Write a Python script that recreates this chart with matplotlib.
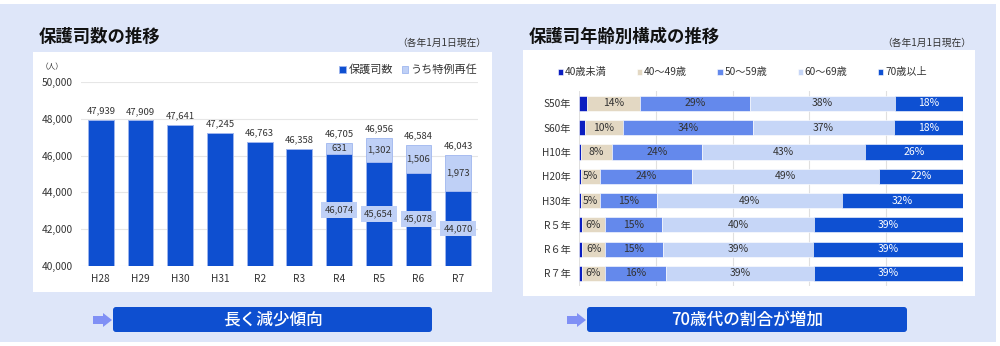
import matplotlib
matplotlib.use('Agg')
import matplotlib.pyplot as plt
import matplotlib.patches as mpatches
import numpy as np

plt.rcParams['font.family'] = ['Noto Sans CJK JP', 'DejaVu Sans']

# 保護司数の推移
years = ['H28', 'H29', 'H30', 'H31', 'R2', 'R3', 'R4', 'R5', 'R6', 'R7']
totals = [47939, 47909, 47641, 47245, 46763, 46358, 46705, 46956, 46584, 46043]
special = [0, 0, 0, 0, 0, 0, 631, 1302, 1506, 1973]   # うち特例再任

# 保護司年齢別構成の推移 (%)
rows = ['S50年', 'S60年', 'H10年', 'H20年', 'H30年', 'R５年', 'R６年', 'R７年']
age_labels = ['40歳未満', '40～49歳', '50～59歳', '60～69歳', '70歳以上']
u40 = [2, 1.5, 0.6, 0.5, 0.5, 0.8, 0.8, 0.8]
a40 = [14, 10, 8, 5, 5, 6, 6, 6]
a50 = [29, 34, 24, 24, 15, 15, 15, 16]
a60 = [38, 37, 43, 49, 49, 40, 39, 39]
a70 = [18, 18, 26, 22, 32, 39, 39, 39]

BG = '#dee6f9'
DARK = '#0e4fd0'
LIGHT = '#bfd0f6'
age_colors = ['#0b1ec0', '#e3d8c3', '#6489ec', '#c6d6f7', '#0e50d2']
TXT = '#333333'

W, H = 1000, 346
fig = plt.figure(figsize=(W / 100, H / 100), dpi=100)


def box(x0, y0, x1, y1):
    # pixel box (top-left origin) -> figure fraction rect
    return [x0 / W, 1 - y1 / H, (x1 - x0) / W, (y1 - y0) / H]


# background layer in pixel coordinates
bg = fig.add_axes([0, 0, 1, 1], zorder=0)
bg.set_xlim(0, W)
bg.set_ylim(H, 0)
bg.axis('off')
bg.add_patch(mpatches.Rectangle((0, 4), 996, 338, color=BG, lw=0))
bg.add_patch(mpatches.Rectangle((33, 52), 459, 240, color='white', lw=0))
bg.add_patch(mpatches.Rectangle((523, 50), 452, 246, color='white', lw=0))

bg.text(39, 37, '保護司数の推移', fontsize=12.5, fontweight='bold', va='center', color='#111')
bg.text(486, 43, '（各年1月1日現在）', fontsize=7, ha='right', va='center', color=TXT)
bg.text(529, 37, '保護司年齢別構成の推移', fontsize=12.5, fontweight='bold', va='center', color='#111')
bg.text(971, 43, '（各年1月1日現在）', fontsize=7, ha='right', va='center', color=TXT)
bg.text(52, 67, '（人）', fontsize=5.5, ha='center', va='center', color=TXT)

# buttons with arrows
for x0, x1, label in [(113, 432, '長く減少傾向'), (587, 907, '70歳代の割合が増加')]:
    bg.add_patch(mpatches.FancyBboxPatch((x0, 307), x1 - x0, 25,
                                         boxstyle='round,pad=0,rounding_size=3',
                                         color=DARK, lw=0))
    bg.text((x0 + x1) / 2, 320, label, fontsize=12, fontweight='medium',
            color='white', ha='center', va='center')
    ax0 = x0 - 20
    arrow = [(ax0, 316), (ax0 + 10, 316), (ax0 + 10, 313), (ax0 + 19, 320),
             (ax0 + 10, 327), (ax0 + 10, 324), (ax0, 324)]
    bg.add_patch(mpatches.Polygon(arrow, closed=True, color='#8090f5', lw=0))

# ---- left: bar chart ----
ax = fig.add_axes(box(81, 82, 478, 266), zorder=1)
ax.set_facecolor('none')
x = np.arange(len(years))
regular = np.array(totals) - np.array(special)
ax.bar(x, regular, width=0.65, color=DARK, edgecolor='#9fb6ef', lw=0.6,
       label='保護司数', zorder=2)
ax.bar(x, special, bottom=regular, width=0.65, color=LIGHT, edgecolor='#9fb6ef',
       lw=0.6, label='うち特例再任', zorder=2)
for i in range(len(years)):
    ax.text(x[i], totals[i] + 250, f'{totals[i]:,}', ha='center', va='bottom',
            fontsize=6.8, color=TXT)
    if special[i] > 0:
        ax.text(x[i], regular[i] + special[i] / 2, f'{special[i]:,}', ha='center',
                va='center', fontsize=6.8, color=TXT, zorder=3)
        ax.text(x[i], (40000 + regular[i]) / 2, f'{regular[i]:,}', ha='center',
                va='center', fontsize=6.8, color=TXT, zorder=3,
                bbox=dict(boxstyle='square,pad=0.35', fc=LIGHT, ec='none'))
ax.set_ylim(40000, 50000)
ax.set_xlim(-0.5, len(years) - 0.5)
ax.set_yticks(range(40000, 50001, 2000))
ax.yaxis.set_major_formatter(matplotlib.ticker.FuncFormatter(lambda v, p: f'{int(v):,}'))
ax.set_xticks(x)
ax.set_xticklabels(years)
ax.tick_params(length=0, labelsize=7.3, colors=TXT, pad=6)
ax.grid(axis='y', color='#e6e6e6', lw=0.8, zorder=0)
for s in ax.spines.values():
    s.set_visible(False)
ax.legend(loc='lower right', bbox_to_anchor=(1.015, 1.0), ncol=2, frameon=False,
          fontsize=8, handlelength=0.6, handleheight=0.6, handletextpad=0.2,
          columnspacing=0.8, borderpad=0.1, labelcolor=TXT)

# ---- right: 100% stacked bars ----
ax2 = fig.add_axes(box(579, 91.3, 963, 285.6), zorder=1)
ax2.set_facecolor('none')
data = np.array([u40, a40, a50, a60, a70], dtype=float)
shares = data / data.sum(axis=0) * 100
y = np.arange(len(rows))
left = np.zeros(len(rows))
for k in range(len(age_labels)):
    ax2.barh(y, shares[k], left=left, height=0.62, color=age_colors[k],
             edgecolor='white', lw=0.4, label=age_labels[k], zorder=2)
    if k > 0:
        for j in range(len(rows)):
            ax2.text(left[j] + shares[k][j] / 2, y[j], f'{data[k][j]:.0f}%',
                     ha='center', va='center', fontsize=7.5,
                     color='white' if k == 4 else TXT, zorder=3)
    left += shares[k]
ax2.set_xlim(0, 100)
ax2.set_ylim(len(rows) - 0.5, -0.5)
ax2.set_xticks(range(0, 101, 20))
ax2.set_xticklabels([])
ax2.set_yticks(y)
ax2.set_yticklabels(rows)
ax2.tick_params(length=0, labelsize=7.3, colors=TXT, pad=6)
ax2.grid(axis='x', color='#e0e0e0', lw=0.8, zorder=0)
for s in ax2.spines.values():
    s.set_visible(False)
ax2.legend(loc='lower center', bbox_to_anchor=(0.425, 1.04), ncol=5, frameon=False,
           fontsize=7.3, handlelength=0.5, handleheight=0.5, handletextpad=0.2,
           columnspacing=3.0, borderpad=0.1, labelcolor=TXT)

fig.savefig('out.png', dpi=100)
